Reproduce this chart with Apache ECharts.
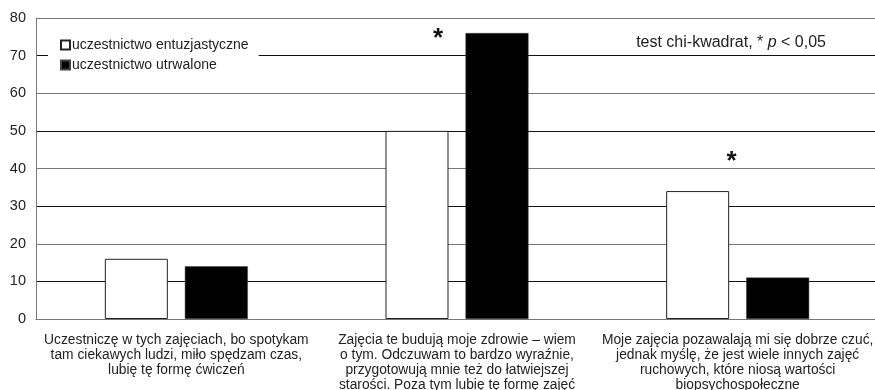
<!DOCTYPE html>
<html>
<head>
<meta charset="utf-8">
<script src="https://cdn.jsdelivr.net/npm/echarts@6/dist/echarts.min.js"></script>
<style>
  html, body { margin: 0; padding: 0; background: #fff; }
  #chart { width: 875px; height: 390px; }
</style>
</head>
<body>
<div id="chart"></div>
<script>
// category labels (line breaks as in the source figure)
const categories = [
  'Uczestniczę w tych zajęciach, bo spotykam\ntam ciekawych ludzi, miło spędzam czas,\nlubię tę formę ćwiczeń',
  'Zajęcia te budują moje zdrowie – wiem\no tym. Odczuwam to bardzo wyraźnie,\nprzygotowują mnie też do łatwiejszej\nstarości. Poza tym lubię tę formę zajęć',
  'Moje zajęcia pozawalają mi się dobrze czuć,\njednak myślę, że jest wiele innych zajęć\nruchowych, które niosą wartości\nbiopsychospołeczne'
]
const entuzjastyczne = [16, 50, 34]
const utrwalone = [14, 76, 11]
const yTicks = [0, 80, 10] // min, max, interval

const FONT = '"Liberation Sans", Arial, sans-serif'

const chart = echarts.init(document.getElementById('chart'))

chart.setOption({
  animation: false,
  backgroundColor: '#fff',
  textStyle: { fontFamily: FONT, color: '#222' },
  grid: { left: 36, top: 18, bottom: 71, width: 842, outerBoundsMode: 'none' },
  title: {
    right: 44,
    top: 30,
    text: '{a|test chi-kwadrat, * }{i|p}{a| < 0,05}',
    textStyle: {
      fontWeight: 'normal',
      rich: {
        a: { fontFamily: FONT, fontSize: 16, fontWeight: 'normal', color: '#222' },
        i: { fontFamily: FONT, fontSize: 16, fontWeight: 'normal', color: '#222', fontStyle: 'italic' }
      }
    }
  },
  legend: {
    orient: 'vertical',
    left: 48,
    top: 33,
    padding: [5, 10, 5, 12],
    backgroundColor: '#fff',
    itemWidth: 9,
    itemHeight: 9,
    itemGap: 6,
    icon: 'rect',
    textStyle: { fontFamily: FONT, fontSize: 14, color: '#222', padding: [0, 0, 0, -3] },
    data: ['uczestnictwo entuzjastyczne', 'uczestnictwo utrwalone']
  },
  xAxis: {
    type: 'category',
    data: categories,
    axisLine: { lineStyle: { color: '#777' } },
    axisTick: { show: false },
    axisLabel: {
      interval: 0,
      margin: 14,
      fontFamily: FONT,
      fontSize: 13.8,
      lineHeight: 15,
      color: '#222'
    }
  },
  yAxis: {
    type: 'value',
    min: yTicks[0],
    max: yTicks[1],
    interval: yTicks[2],
    axisLine: { show: true, lineStyle: { color: '#777' } },
    axisTick: { show: false },
    axisLabel: { margin: 10, fontFamily: FONT, fontSize: 14.5, color: '#222' },
    splitLine: { lineStyle: { color: ['#777', '#111'], width: 1 } }
  },
  series: [
    {
      name: 'uczestnictwo entuzjastyczne',
      type: 'bar',
      barWidth: 63,
      barGap: '27%',
      data: entuzjastyczne,
      itemStyle: { color: '#fff', borderColor: '#222', borderWidth: 1 },
      markPoint: {
        symbol: 'rect',
        symbolSize: 1,
        itemStyle: { color: 'rgba(0,0,0,0)' },
        label: {
          show: true,
          position: 'inside',
          formatter: '*',
          fontSize: 26,
          fontWeight: 'bold',
          color: '#111',
          fontFamily: FONT
        },
        data: [
          { coord: [1, 74.4], label: { offset: [21, 0] } },
          { coord: [2, 41.7], label: { offset: [34, 0] } }
        ]
      }
    },
    {
      name: 'uczestnictwo utrwalone',
      type: 'bar',
      barWidth: 63,
      data: utrwalone,
      itemStyle: { color: '#000', borderColor: '#444', borderWidth: 0.5 }
    }
  ]
})
</script>
</body>
</html>
